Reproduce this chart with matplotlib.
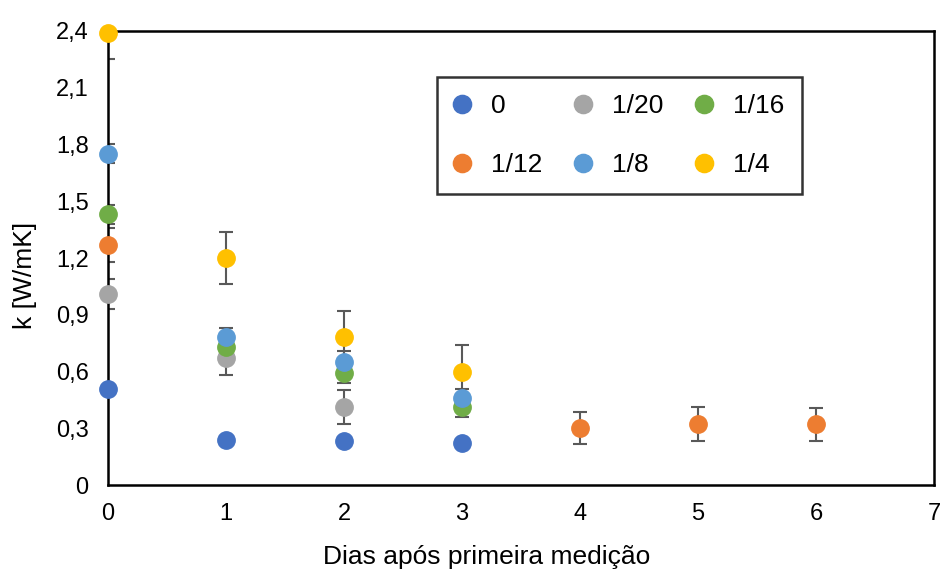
import matplotlib
matplotlib.use("Agg")
import matplotlib.pyplot as plt
from matplotlib.ticker import FuncFormatter

plt.rcParams['font.family'] = ['Liberation Sans', 'DejaVu Sans']

labels = ["0", "1/20", "1/16", "1/12", "1/8", "1/4"]
colors = ["#4472C4", "#A5A5A5", "#70AD47", "#ED7D31", "#5B9BD5", "#FFC000"]

x_0 = [0, 1, 2, 3]
y_0 = [0.51, 0.24, 0.23, 0.22]
e_0 = [0.02, 0.02, 0.02, 0.02]

x_1_20 = [0, 1, 2]
y_1_20 = [1.01, 0.67, 0.41]
e_1_20 = [0.08, 0.09, 0.09]

x_1_16 = [0, 1, 2, 3]
y_1_16 = [1.43, 0.73, 0.59, 0.41]
e_1_16 = [0.05, 0.05, 0.05, 0.05]

x_1_12 = [0, 4, 5, 6]
y_1_12 = [1.27, 0.30, 0.32, 0.32]
e_1_12 = [0.09, 0.085, 0.09, 0.085]

x_1_8 = [0, 1, 2, 3]
y_1_8 = [1.75, 0.78, 0.65, 0.46]
e_1_8 = [0.05, 0.05, 0.06, 0.05]

x_1_4 = [0, 1, 2, 3]
y_1_4 = [2.39, 1.20, 0.78, 0.60]
e_1_4 = [0.14, 0.14, 0.14, 0.14]

series = [(x_0, y_0, e_0), (x_1_20, y_1_20, e_1_20), (x_1_16, y_1_16, e_1_16),
          (x_1_12, y_1_12, e_1_12), (x_1_8, y_1_8, e_1_8), (x_1_4, y_1_4, e_1_4)]

fig = plt.figure(figsize=(9.41, 5.70), dpi=100)
ax = fig.add_axes([108/941, 85/570, 826/941, 454/570])

handles = []
for (xs, ys, es), lab, c in zip(series, labels, colors):
    eb = ax.errorbar(xs, ys, yerr=es, fmt='none', ecolor='#595959', elinewidth=1.5,
                     capsize=5, capthick=1.5, zorder=2)
    for art in eb.lines[1] + eb.lines[2]:
        art.set_clip_on(True)
    h, = ax.plot(xs, ys, 'o', color=c, markersize=12.5, label=lab, clip_on=False, zorder=3)
    handles.append(h)

ax.set_xlim(0, 7)
ax.set_ylim(0, 2.4)
ax.set_xticks(range(0, 8))
ax.set_yticks([0, 0.3, 0.6, 0.9, 1.2, 1.5, 1.8, 2.1, 2.4])
ax.yaxis.set_major_formatter(FuncFormatter(lambda v, p: "0" if v == 0 else f"{v:.1f}".replace('.', ',')))
ax.tick_params(length=0, labelsize=17)
ax.tick_params(axis='x', pad=13)
ax.tick_params(axis='y', pad=14)
for s in ax.spines.values():
    s.set_linewidth(1.8)
    s.set_color('black')

ax.set_xlabel("Dias após primeira medição", fontsize=19)
ax.set_ylabel("k [W/mK]", fontsize=19)
ax.xaxis.set_label_coords((487 - 108) / 826, -(557 - 485) / 454)
ax.yaxis.set_label_coords(-(108 - 25) / 826, (485 - 275) / 454)
ax.xaxis.label.set_va('center')
ax.yaxis.label.set_va('center')

order = [0, 3, 1, 4, 2, 5]
leg = ax.legend([handles[i] for i in order], [labels[i] for i in order], ncol=3,
                loc='center', bbox_to_anchor=((437 - 108) / 826, (485 - 194) / 454, 365 / 826, 117 / 454),
                mode='expand', borderaxespad=0,
                fontsize=19, frameon=True, fancybox=False, edgecolor='black',
                handletextpad=0.8, columnspacing=1.0, labelspacing=1.32, borderpad=0.66,
                handlelength=0.6, markerscale=1.05)
leg.get_frame().set_linewidth(1.8)

fig.savefig("out.png", dpi=100)
